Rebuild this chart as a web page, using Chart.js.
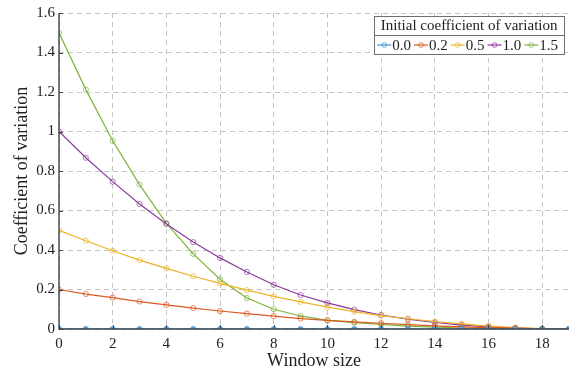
<!DOCTYPE html>
<html>
<head>
<meta charset="utf-8">
<script src="https://cdn.jsdelivr.net/npm/chart.js@4/dist/chart.umd.min.js"></script>
<style>
  html, body { margin: 0; padding: 0; background: #fff; }
  #wrap { width: 574px; height: 371px; position: relative; }
</style>
</head>
<body>
<div id="wrap"><canvas id="cvChart"></canvas></div>
<script>
// Window sizes along the x axis
const windowSizes = [0, 1, 2, 3, 4, 5, 6, 7, 8, 9, 10, 11, 12, 13, 14, 15, 16, 17, 18, 19];

// Coefficient of variation for each initial value
const cv00 = [0, 0, 0, 0, 0, 0, 0, 0, 0, 0, 0, 0, 0, 0, 0, 0, 0, 0, 0, 0];
const cv02 = [0.2, 0.177, 0.159, 0.139, 0.122, 0.106, 0.091, 0.078, 0.065, 0.053, 0.044, 0.036, 0.029, 0.022, 0.016, 0.011, 0.007, 0.004, 0.001, 0];
const cv05 = [0.5, 0.447, 0.396, 0.349, 0.307, 0.267, 0.231, 0.197, 0.165, 0.137, 0.111, 0.088, 0.068, 0.052, 0.038, 0.026, 0.015, 0.007, 0.002, 0];
const cv10 = [1.0, 0.867, 0.746, 0.633, 0.532, 0.44, 0.36, 0.289, 0.224, 0.172, 0.132, 0.098, 0.071, 0.05, 0.033, 0.02, 0.011, 0.005, 0.001, 0];
const cv15 = [1.5, 1.212, 0.953, 0.731, 0.535, 0.38, 0.252, 0.157, 0.1, 0.066, 0.044, 0.032, 0.023, 0.015, 0.009, 0.005, 0.003, 0.001, 0, 0];

const seriesLabels = ['0.0', '0.2', '0.5', '1.0', '1.5'];
const seriesColors = ['#3d8fd1', '#dc5a22', '#efb224', '#8a3a9a', '#7cb33a'];

const xTickValues = [0, 2, 4, 6, 8, 10, 12, 14, 16, 18];
const yTickValues = [0, 0.2, 0.4, 0.6, 0.8, 1.0, 1.2, 1.4, 1.6];
const yTickLabels = ['0', '0.2', '0.4', '0.6', '0.8', '1', '1.2', '1.4', '1.6'];

const legendTitle = 'Initial coefficient of variation';
const serif = '"Liberation Serif", "Times New Roman", serif';
const ink = '#222';

function toPoints(vals) {
  return vals.map((v, i) => ({ x: windowSizes[i], y: v }));
}

const allSeries = [cv00, cv02, cv05, cv10, cv15];
const datasets = allSeries.map((vals, i) => ({
  label: seriesLabels[i],
  data: toPoints(vals),
  borderColor: seriesColors[i],
  borderWidth: 1.2,
  pointStyle: 'circle',
  pointRadius: 2.6,
  pointBorderWidth: 1,
  pointBorderColor: seriesColors[i] + 'b0',
  // the zero series sits on the axis, so its markers are filled to stay visible
  pointBackgroundColor: i === 0 ? '#5aa7e0' : 'rgba(255,255,255,0)',
  tension: 0
}));

// Axis lines and inward tick marks, drawn over the data
const frame = {
  id: 'frame',
  afterDatasetsDraw(chart) {
    const { ctx, chartArea: a, scales: { x, y } } = chart;
    ctx.save();
    ctx.strokeStyle = '#3a4450';
    ctx.lineWidth = 1.4;
    ctx.beginPath();
    ctx.moveTo(a.left, a.top);
    ctx.lineTo(a.left, a.bottom);
    ctx.lineTo(a.right, a.bottom);
    ctx.stroke();
    ctx.lineWidth = 1;
    ctx.beginPath();
    xTickValues.forEach(v => {
      const px = Math.round(x.getPixelForValue(v)) + 0.5;
      ctx.moveTo(px, a.bottom);
      ctx.lineTo(px, a.bottom - 4);
    });
    yTickValues.forEach(v => {
      const py = Math.round(y.getPixelForValue(v)) + 0.5;
      ctx.moveTo(a.left, py);
      ctx.lineTo(a.left + 4, py);
    });
    ctx.stroke();
    ctx.restore();
  }
};

// Boxed legend with a title row, placed in the upper right of the plot
const boxLegend = {
  id: 'boxLegend',
  afterDraw(chart) {
    const { ctx, chartArea: a } = chart;
    ctx.save();
    ctx.font = '15px ' + serif;
    const titleW = ctx.measureText(legendTitle).width;
    const sample = 14;
    const itemW = chart.data.datasets.map(d => sample + ctx.measureText(d.label).width + 4);
    const rowW = itemW.reduce((s, w) => s + w, 0);
    const w = Math.max(titleW, rowW) + 6;
    const right = a.right - 5;
    const left = right - w;
    const top = a.top + 3;
    const rowH = 19;

    ctx.fillStyle = '#fff';
    ctx.fillRect(left, top, w, rowH * 2);
    ctx.strokeStyle = '#6e6e6e';
    ctx.lineWidth = 1;
    ctx.strokeRect(Math.round(left) + 0.5, top + 0.5, Math.round(w), rowH * 2);
    ctx.beginPath();
    ctx.moveTo(left, top + rowH + 0.5);
    ctx.lineTo(left + w, top + rowH + 0.5);
    ctx.stroke();

    ctx.fillStyle = ink;
    ctx.textBaseline = 'middle';
    ctx.textAlign = 'center';
    ctx.fillText(legendTitle, left + w / 2, top + rowH / 2 + 1);

    ctx.textAlign = 'left';
    let cx = left + 3;
    const cy = top + rowH * 1.5 + 0.5;
    chart.data.datasets.forEach((d, i) => {
      ctx.strokeStyle = d.borderColor;
      ctx.lineWidth = 1.2;
      ctx.beginPath();
      ctx.moveTo(cx, cy);
      ctx.lineTo(cx + sample, cy);
      ctx.stroke();
      ctx.strokeStyle = d.pointBorderColor;
      ctx.lineWidth = 1;
      ctx.beginPath();
      ctx.arc(cx + sample / 2, cy, 2.4, 0, Math.PI * 2);
      ctx.stroke();
      ctx.fillStyle = ink;
      ctx.fillText(d.label, cx + sample + 1, cy + 1);
      cx += itemW[i];
    });
    ctx.restore();
  }
};

const ctx = document.getElementById('cvChart').getContext('2d');
const cvChart = new Chart(ctx, {
  type: 'line',
  data: { datasets },
  options: {
    responsive: true,
    maintainAspectRatio: false,
    animation: false,
    layout: { padding: { top: 13, right: 2, left: 0, bottom: 0 } },
    plugins: {
      legend: { display: false },
      tooltip: { enabled: false }
    },
    scales: {
      x: {
        type: 'linear',
        min: 0,
        max: 19,
        afterBuildTicks: s => { s.ticks = xTickValues.map(v => ({ value: v })); },
        afterFit: s => { s.height = 42; },
        grid: { color: '#c4c4c4', lineWidth: 1, drawTicks: false },
        border: { display: false, dash: [5, 4] },
        ticks: {
          padding: 6,
          color: ink,
          font: { family: serif, size: 15 },
          maxRotation: 0
        },
        title: {
          display: true,
          text: 'Window size',
          color: ink,
          font: { family: serif, size: 18 },
          padding: { top: 0, bottom: -1 }
        }
      },
      y: {
        min: 0,
        max: 1.6,
        afterBuildTicks: s => { s.ticks = yTickValues.map(v => ({ value: v })); },
        afterFit: s => { s.width = 59; },
        grid: { color: '#c4c4c4', lineWidth: 1, drawTicks: false },
        border: { display: false, dash: [5, 4] },
        ticks: {
          padding: 4,
          color: ink,
          font: { family: serif, size: 15 },
          callback: (v, i) => yTickLabels[i]
        },
        title: {
          display: true,
          text: 'Coefficient of variation',
          color: ink,
          font: { family: serif, size: 18 },
          padding: { top: 11, bottom: 0 }
        }
      }
    }
  },
  plugins: [frame, boxLegend]
});
</script>
</body>
</html>
